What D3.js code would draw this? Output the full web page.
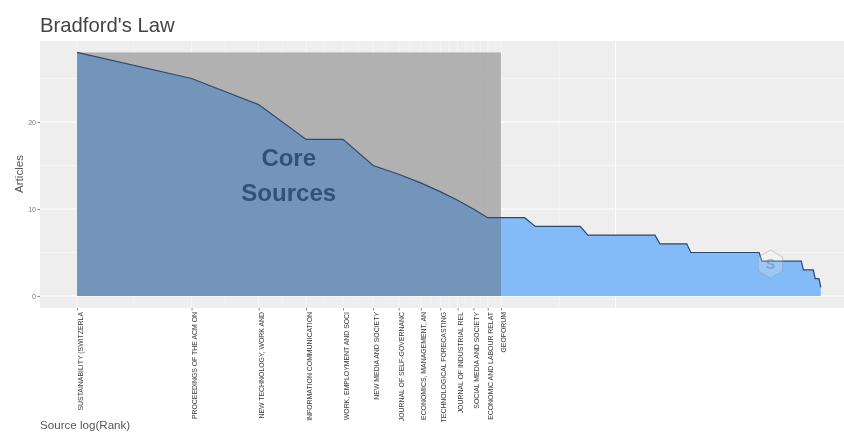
<!DOCTYPE html>
<html><head><meta charset="utf-8">
<script src="https://cdn.jsdelivr.net/npm/d3@7"></script>
<style>
html,body{margin:0;padding:0;background:#fff;overflow:hidden}
svg{display:block;filter:blur(.4px)}
text{font-family:"Liberation Sans",Arial,sans-serif}
</style></head><body>
<svg id="c" width="844" height="432"></svg>
<script>
const sourceLabels = ["SUSTAINABILITY (SWITZERLA","PROCEEDINGS OF THE ACM ON","NEW TECHNOLOGY, WORK AND","INFORMATION COMMUNICATION","WORK, EMPLOYMENT AND SOCI","NEW MEDIA AND SOCIETY","JOURNAL OF SELF-GOVERNANC","ECONOMICS, MANAGEMENT, AN","TECHNOLOGICAL FORECASTING","JOURNAL OF INDUSTRIAL REL","SOCIAL MEDIA AND SOCIETY","ECONOMIC AND LABOUR RELAT","GEOFORUM"];
const articles = [28,25,22,18,18,15,14,13,12,11,10,9,9,9,9,
  8,8,8,8,8,8,
  7,7,7,7,7,7,7,7,7,7,7,7,
  6,6,6,6,6,6,6,
  5,5,5,5,5,5,5,5,5,5,5,5,5,5,5,5,5,5,5,5,5,5,
  4,4,4,4,4,4,4,4,4,4,4,4,4,4,4,4,4,4,
  3,3,3,3,3,3,2,2,2,1];
const yTicks = [0,10,20];
const yMinor = [5,15,25];
const xExtraMajor = [26];
const xMinorRanks = [1.41,2.45,3.46,4.47,5.48,6.48,7.48,8.48,9.49,10.49,11.49,12.49,18.5];
const coreCount = 13;
const coreLabels = [{t:"Core",rank:3.6,v:14.95},{t:"Sources",rank:3.6,v:10.95}];

const svg = d3.select("#c");
const x = d3.scaleLog().domain([1,articles.length]).range([77,820.8]);
const y = d3.scaleLinear().domain([0,28]).range([296,52.4]);
const panel = {l:40,r:844,t:41,b:308};
const pts = articles.map((v,i)=>({r:i+1,v}));

svg.append("rect").attr("x",panel.l).attr("y",panel.t).attr("width",panel.r-panel.l).attr("height",panel.b-panel.t).attr("fill","#eeeeee");
const grid = svg.append("g");
yMinor.forEach(v=>grid.append("line").attr("x1",panel.l).attr("x2",panel.r).attr("y1",y(v)).attr("y2",y(v)).attr("stroke","#fff").attr("stroke-width",.6).attr("opacity",.8));
yTicks.forEach(v=>grid.append("line").attr("x1",panel.l).attr("x2",panel.r).attr("y1",y(v)).attr("y2",y(v)).attr("stroke","#fff").attr("stroke-width",1));
xMinorRanks.forEach(r=>grid.append("line").attr("x1",x(r)).attr("x2",x(r)).attr("y1",panel.t).attr("y2",panel.b).attr("stroke","#fff").attr("stroke-width",.6).attr("opacity",.5));
d3.range(1,coreCount+1).concat(xExtraMajor).forEach(r=>grid.append("line").attr("x1",x(r)).attr("x2",x(r)).attr("y1",panel.t).attr("y2",panel.b).attr("stroke","#fff").attr("stroke-width",r>coreCount?1:.8).attr("opacity",r>coreCount?1:.6));

const area = d3.area().x(d=>x(d.r)).y0(y(0)).y1(d=>y(d.v));
const line = d3.line().x(d=>x(d.r)).y(d=>y(d.v));

svg.append("path").attr("d",area(pts)).attr("fill","#7fb9f8").attr("fill-opacity",.97);
// grey core band
svg.append("rect").attr("x",x(1)).attr("width",x(coreCount)-x(1)).attr("y",y(28)).attr("height",y(0)-y(28)).attr("fill","#a6a6a6").attr("fill-opacity",.85);
svg.append("path").attr("d",area(pts.filter(d=>d.r<=coreCount))).attr("fill","#7295bb").attr("fill-opacity",.97);
svg.append("path").attr("d",line(pts)).attr("fill","none").attr("stroke","#2b4a6f").attr("stroke-width",1.2);

// watermark
const hex = d3.range(6).map(i=>{const a=Math.PI/3*i-Math.PI/2;return [770.5+14*Math.cos(a),264+14*Math.sin(a)];});
svg.append("path").attr("d",d3.line()(hex)+"Z").attr("fill","#fff").attr("fill-opacity",.2).attr("stroke","#9a9a9a").attr("stroke-opacity",.45);
svg.append("text").attr("x",770.5).attr("y",269).attr("text-anchor","middle").attr("font-size",14).attr("font-weight","bold").attr("fill","#6b7f95").attr("fill-opacity",.5).text("S");

// core label
svg.selectAll("text.core").data(coreLabels).join("text").attr("class","core")
  .attr("x",d=>x(d.rank)).attr("y",d=>y(d.v)).attr("text-anchor","middle")
  .attr("font-size",24).attr("font-weight","bold").attr("fill","#2f5276").text(d=>d.t);

// axes
const gy = svg.append("g").attr("transform",`translate(${panel.l},0)`).call(d3.axisLeft(y).tickValues(yTicks).tickSize(2.5).tickPadding(1.5).tickFormat(d3.format("d")));
gy.select(".domain").remove();
gy.selectAll("line").attr("stroke","#555").attr("stroke-width",.7);
gy.selectAll("text").attr("font-size",7).attr("fill","#777").attr("font-family",'"Liberation Sans",Arial,sans-serif');

const gx = svg.append("g").attr("transform",`translate(0,${panel.b})`).call(d3.axisBottom(x).tickValues(d3.range(1,coreCount+1)).tickSize(2.5).tickFormat(r=>sourceLabels[r-1]));
gx.select(".domain").remove();
gx.selectAll("line").attr("stroke","#555").attr("stroke-width",.7);
gx.selectAll("text").attr("transform","rotate(-90)").attr("text-anchor","end")
  .attr("x",-4).attr("y",0).attr("dx",0).attr("dy","5").attr("font-size",6.9).attr("fill","#3a3a3a").attr("font-family",'"Liberation Sans",Arial,sans-serif');

svg.append("text").attr("x",40).attr("y",32).attr("font-size",20.3).attr("fill","#444").text("Bradford's Law");
svg.append("text").attr("transform","translate(23,174) rotate(-90)").attr("text-anchor","middle").attr("font-size",11.6).attr("fill","#555").text("Articles");
svg.append("text").attr("x",40).attr("y",429).attr("font-size",11.6).attr("fill","#555").text("Source log(Rank)");
</script>
</body></html>
